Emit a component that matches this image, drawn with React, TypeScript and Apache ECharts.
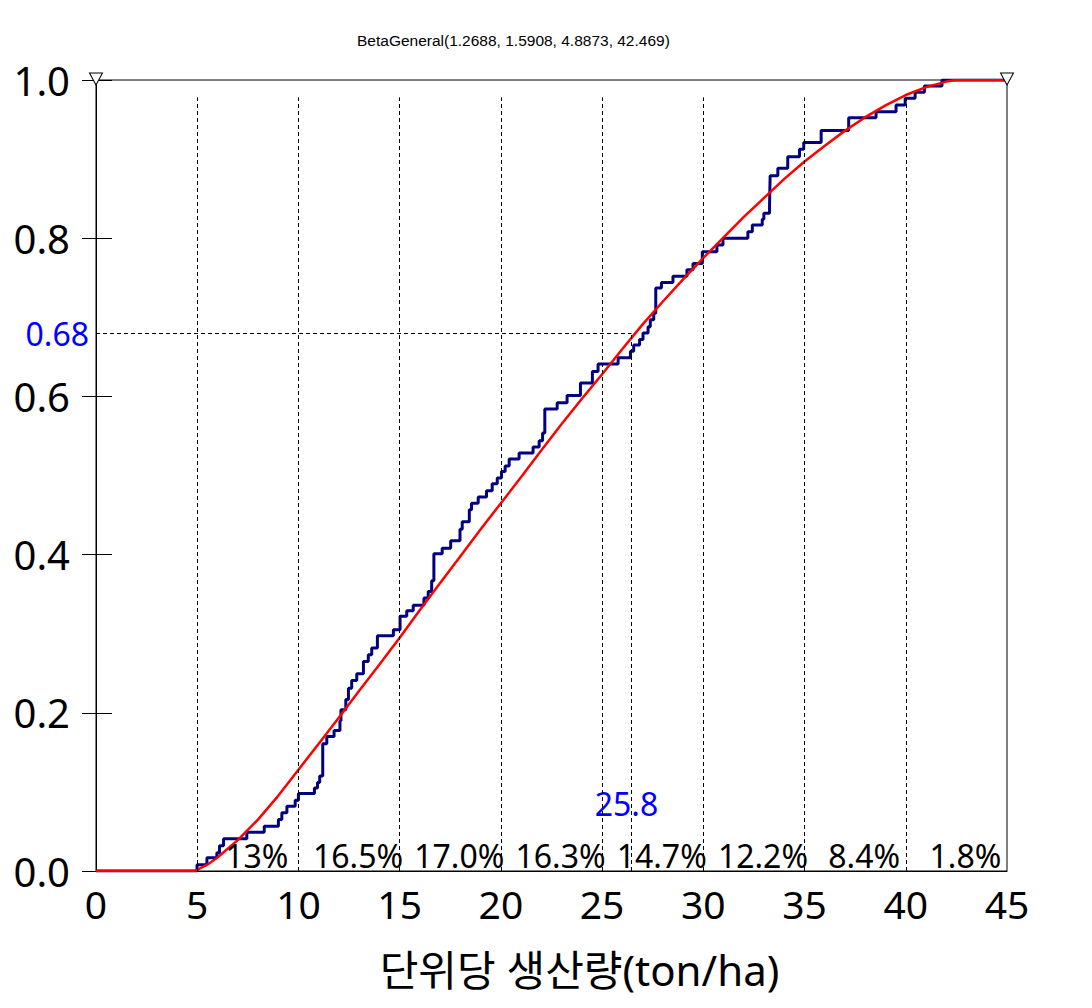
import React, { useEffect, useRef } from "react";
import * as echarts from "echarts";

const chartTitle = "BetaGeneral(1.2688, 1.5908, 4.8873, 42.469)";
const xAxisName = "단위당 생산량(ton/ha)";

// bin edges (vertical dashed guides) and bin probabilities
const binEdges = [5, 10, 15, 20, 25, 30, 35, 40];
const binCenters = [7.5, 12.5, 17.5, 22.5, 27.5, 32.5, 37.5, 42.5];
const binPercents = ["13%", "16.5%", "17.0%", "16.3%", "14.7%", "12.2%", "8.4%", "1.8%"];

// marker
const markerX = 26.45;
const markerP = 0.68;
const markerXLabel = "25.8";
const markerPLabel = "0.68";

// empirical CDF (step points: x where the step happens, value after the step)
const empX = [
  0, 4.99, 5.48, 5.97, 6.1, 6.3, 7.45, 8.31, 9.01, 9.18, 9.43, 9.84, 10.0, 10.79, 10.94,
  11.05, 11.2, 11.4, 11.76, 12.05, 12.1, 12.34, 12.47, 12.63, 12.88, 13.21, 13.45, 13.62,
  13.9, 14.69, 15.02, 15.35, 15.67, 16.2, 16.41, 16.58, 16.69, 17.1, 17.52, 17.98, 18.09,
  18.44, 18.55, 18.88, 19.29, 19.57, 19.82, 20.03, 20.21, 20.41, 20.9, 21.59, 21.89, 22.06,
  22.17, 22.78, 23.27, 23.93, 24.52, 24.8, 25.79, 26.4, 26.56, 26.85, 27.02, 27.27, 27.38,
  27.55, 27.65, 27.93, 28.5, 29.19, 29.49, 29.95, 30.67, 30.97, 32.2, 32.42, 32.91, 32.99,
  33.27, 33.3, 33.68, 34.17, 34.75, 34.96, 35.82, 37.18, 38.53, 39.52, 39.97, 40.46, 40.92,
  41.79, 45,
];
const empY = [
  0, 0.008, 0.0167, 0.023, 0.032, 0.0407, 0.049, 0.0566, 0.065, 0.0735, 0.082, 0.0895, 0.098,
  0.105, 0.112, 0.12, 0.161, 0.17, 0.1775, 0.19, 0.204, 0.2167, 0.231, 0.2407, 0.2495, 0.265,
  0.2735, 0.282, 0.2975, 0.305, 0.322, 0.329, 0.336, 0.345, 0.3535, 0.367, 0.401, 0.408,
  0.4175, 0.432, 0.4415, 0.4567, 0.465, 0.4728, 0.4807, 0.4896, 0.4968, 0.505, 0.512, 0.5208,
  0.5283, 0.536, 0.544, 0.5536, 0.584, 0.592, 0.601, 0.617, 0.6315, 0.641, 0.649, 0.657,
  0.665, 0.672, 0.68, 0.688, 0.697, 0.705, 0.737, 0.744, 0.752, 0.76, 0.768, 0.783, 0.7915,
  0.8, 0.808, 0.8168, 0.824, 0.8316, 0.841, 0.879, 0.8884, 0.903, 0.9124, 0.921, 0.936,
  0.9524, 0.96, 0.9684, 0.9769, 0.9845, 0.9924, 1.0, 1.0,
];

// fitted BetaGeneral CDF
const fitX = [
  0, 4.887, 5.5, 6, 7, 8, 9, 10, 11, 12, 13, 14, 15, 16, 17, 18, 19, 20, 21, 22, 23, 24, 25,
  26, 27, 28, 29, 30, 31, 32, 33, 34, 35, 36, 37, 38, 39, 40, 41, 42, 42.469, 45,
];
const fitY = [
  0, 0, 0.008, 0.017, 0.039, 0.065, 0.095, 0.128, 0.161, 0.194, 0.228, 0.261, 0.295, 0.33,
  0.364, 0.398, 0.432, 0.465, 0.498, 0.532, 0.565, 0.597, 0.628, 0.66, 0.691, 0.72, 0.748,
  0.775, 0.801, 0.827, 0.851, 0.875, 0.897, 0.917, 0.936, 0.953, 0.968, 0.981, 0.991, 0.998,
  1, 1,
];

const triangleX = [0, 45];

const NUM_FONT = "'Noto Sans', 'Noto Sans CJK KR', sans-serif";

export default function App() {
  const ref = useRef<HTMLDivElement>(null);

  useEffect(() => {
    if (!ref.current) return;
    document.body.style.margin = "0";
    const chart = echarts.init(ref.current, undefined, { renderer: "svg" });

    const dashed = { type: [4, 3] as any, color: "#000", width: 1 };
    const guideLines: any[] = binEdges.map((e) => [{ coord: [e, 0] }, { coord: [e, 0.978] }]);
    guideLines.push([{ coord: [0, markerP] }, { coord: [markerX, markerP] }]);
    guideLines.push([{ coord: [markerX, 0] }, { coord: [markerX, markerP] }]);

    const option: any = {
      animation: false,
      backgroundColor: "#fff",
      title: {
        text: chartTitle,
        left: 352,
        top: 27,
        textStyle: {
          fontSize: 15.5,
          fontWeight: "normal",
          fontFamily: "'Liberation Sans', sans-serif",
          color: "#000",
        },
      },
      grid: {
        left: 96,
        top: 80,
        width: 911,
        height: 791,
        show: true,
        borderColor: "#000",
        borderWidth: 1,
        backgroundColor: "transparent",
      },
      xAxis: {
        type: "value",
        min: 0,
        max: 45,
        interval: 5,
        axisLine: { show: true, lineStyle: { color: "#000", width: 1 } },
        axisTick: { show: false },
        splitLine: { show: false },
        axisLabel: { fontSize: 39, color: "#000", margin: 13, fontFamily: NUM_FONT },
        name: xAxisName,
        nameLocation: "middle",
        nameGap: 77,
        nameTextStyle: {
          fontSize: 42,
          color: "#000",
          fontFamily: NUM_FONT,
          padding: [0, 0, 0, 56],
        },
      },
      yAxis: [
        {
          type: "value",
          min: 0,
          max: 1,
          interval: 0.2,
          axisLine: { show: true, lineStyle: { color: "#000", width: 1 } },
          axisTick: { show: true, length: 14, lineStyle: { color: "#000", width: 1 } },
          splitLine: { show: false },
          axisLabel: {
            fontSize: 40,
            color: "#000",
            margin: 26,
            fontFamily: NUM_FONT,
            formatter: (v: number) => v.toFixed(1),
          },
        },
        {
          type: "value",
          min: 0,
          max: 1,
          interval: 0.2,
          position: "left",
          axisLine: { show: false },
          axisTick: { show: true, inside: true, length: 16, lineStyle: { color: "#000", width: 1 } },
          splitLine: { show: false },
          axisLabel: { show: false },
        },
      ],
      series: [
        {
          type: "line",
          data: [[0, 0]],
          showSymbol: false,
          lineStyle: { opacity: 0 },
          silent: true,
          z: 1,
          markLine: {
            silent: true,
            symbol: "none",
            label: { show: false },
            lineStyle: dashed,
            data: guideLines,
          },
        },
        {
          type: "line",
          name: "empirical",
          step: "end",
          data: empX.map((x, i) => [x, empY[i]]),
          showSymbol: false,
          lineStyle: { color: "#000080", width: 3 },
          z: 2,
        },
        {
          type: "line",
          name: "fit",
          smooth: false,
          data: fitX.map((x, i) => [x, fitY[i]]),
          showSymbol: false,
          lineStyle: { color: "#ff0000", width: 2.5 },
          z: 3,
        },
        {
          type: "scatter",
          clip: false,
          symbolSize: 0,
          silent: true,
          z: 4,
          itemStyle: { opacity: 1 },
          data: binCenters.map((c, i) => ({ value: [c, 0], name: binPercents[i] })),
          label: {
            show: true,
            position: "inside",
            offset: [9, -16],
            formatter: (p: any) => p.name,
            fontSize: 32,
            color: "#000",
            opacity: 1,
            textBorderWidth: 0,
            fontFamily: NUM_FONT,
          },
        },
        {
          type: "scatter",
          clip: false,
          symbolSize: 0,
          silent: true,
          z: 4,
          itemStyle: { opacity: 1 },
          data: [
            {
              value: [0, markerP],
              name: markerPLabel,
              label: { position: "left", distance: 7, offset: [0, 0] },
            },
            {
              value: [markerX, 0],
              name: markerXLabel,
              label: { position: "inside", offset: [-5, -68] },
            },
          ],
          label: {
            show: true,
            formatter: (p: any) => p.name,
            fontSize: 32,
            color: "#0000ff",
            opacity: 1,
            textBorderWidth: 0,
            fontFamily: NUM_FONT,
          },
        },
        {
          type: "scatter",
          clip: false,
          symbol: "triangle",
          symbolRotate: 180,
          symbolSize: [13, 12],
          symbolOffset: [0, -1],
          silent: true,
          z: 5,
          itemStyle: { color: "#fff", borderColor: "#000", borderWidth: 1, opacity: 1 },
          data: triangleX.map((x) => [x, 1]),
        },
      ],
    };

    chart.setOption(option);
    return () => chart.dispose();
  }, []);

  return (
    <div
      ref={ref}
      style={{ position: "fixed", left: 0, top: 0, width: 1092, height: 1008, background: "#fff" }}
    />
  );
}
